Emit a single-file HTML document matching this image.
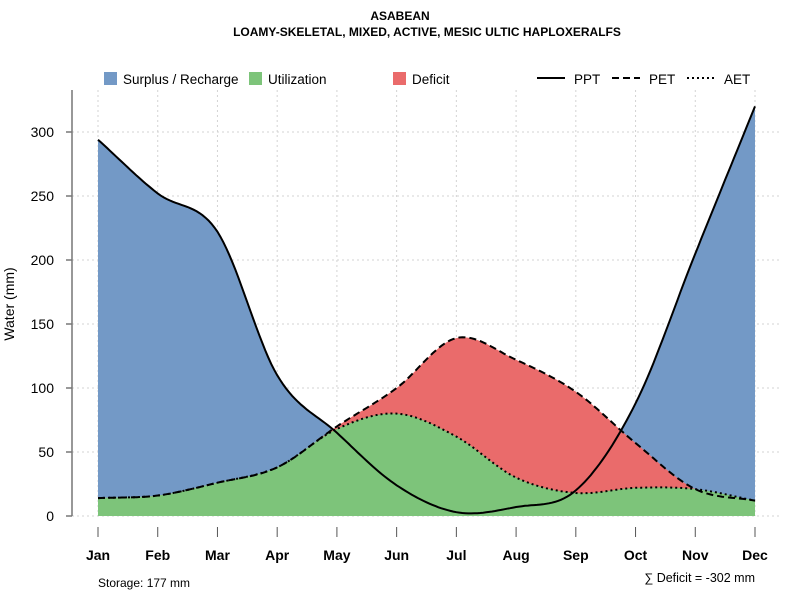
<!DOCTYPE html>
<html><head><meta charset="utf-8"><style>
body{margin:0;background:#fff}
svg{display:block;font-family:"Liberation Sans",sans-serif}
</style></head><body>
<svg id="chart" width="800" height="600" viewBox="0 0 800 600">
<text x="400" y="20" text-anchor="middle" font-size="12" font-weight="bold">ASABEAN</text>
<text x="427" y="36" text-anchor="middle" font-size="12" font-weight="bold">LOAMY-SKELETAL, MIXED, ACTIVE, MESIC ULTIC HAPLOXERALFS</text>
<g id="grid"></g>
<g id="areas"></g>
<g id="lines"></g>
<g id="axes"></g>
<text transform="translate(14,304) rotate(-90)" text-anchor="middle" font-size="14">Water (mm)</text>
<text x="98" y="587" font-size="12">Storage: 177 mm</text>
<text x="755" y="582" text-anchor="end" font-size="12.5">∑ Deficit = -302 mm</text>
<g>
<rect x="104" y="72" width="13" height="13" fill="#7399c6"/>
<text x="123" y="84" font-size="13.5">Surplus / Recharge</text>
<rect x="249" y="72" width="13" height="13" fill="#7dc47a"/>
<text x="268" y="84" font-size="13.5">Utilization</text>
<rect x="393" y="72" width="13" height="13" fill="#ea6b6b"/>
<text x="412" y="84" font-size="13.5">Deficit</text>
<line x1="537" y1="78" x2="565" y2="78" stroke="#000" stroke-width="2"/>
<text x="574" y="84" font-size="13.5">PPT</text>
<line x1="612" y1="78" x2="640" y2="78" stroke="#000" stroke-width="2" stroke-dasharray="7,4"/>
<text x="649" y="84" font-size="13.5">PET</text>
<line x1="687" y1="78" x2="715" y2="78" stroke="#000" stroke-width="2" stroke-dasharray="2,3"/>
<text x="724" y="84" font-size="13.5">AET</text>
</g>
</svg>
<script>
const months=["Jan","Feb","Mar","Apr","May","Jun","Jul","Aug","Sep","Oct","Nov","Dec"];
const ppt=[294,252,222,110,65,24,3,7,20,88,205,320];
const pet=[14,16,26,38,70,100,139,122,97,57,21,12];
const aet=[14,16,26,38,68,80,62,30,18,22,21,12];
const yTicks=[0,50,100,150,200,250,300];
const NS="http://www.w3.org/2000/svg";
const xs=i=>98+i*(755-98)/11;
const ys=v=>516-v*1.28;
function mk(tag,attrs,parent){const e=document.createElementNS(NS,tag);for(const k in attrs)e.setAttribute(k,attrs[k]);parent.appendChild(e);return e;}
function curve(d){const n=d.length,m=[];
 for(let i=0;i<n;i++){if(i==0)m.push(d[1]-d[0]);else if(i==n-1)m.push(d[n-1]-d[n-2]);else m.push((d[i+1]-d[i-1])/2);}
 const pts=[];for(let i=0;i<n-1;i++){for(let k=0;k<20;k++){const t=k/20,h00=2*t*t*t-3*t*t+1,h10=t*t*t-2*t*t+t,h01=-2*t*t*t+3*t*t,h11=t*t*t-t*t;pts.push([xs(i+t),ys(Math.max(0,h00*d[i]+h10*m[i]+h01*d[i+1]+h11*m[i+1]))]);}}
 pts.push([xs(n-1),ys(d[n-1])]);return pts;}
const grid=document.getElementById('grid'),areas=document.getElementById('areas'),lines=document.getElementById('lines'),axes=document.getElementById('axes');
yTicks.forEach(v=>{const l=mk('line',{x1:72,x2:782,y1:ys(v),y2:ys(v),stroke:'#d3d3d3','stroke-dasharray':'2,3'},grid);
 });
months.forEach((m,i)=>{const l=mk('line',{x1:xs(i),x2:xs(i),y1:90,y2:516,stroke:'#d3d3d3','stroke-dasharray':'2,3'},grid);
 });
function area(d,fill,name){const p=curve(d);const s='M'+xs(0)+','+ys(0)+' '+p.map(q=>'L'+q[0].toFixed(1)+','+q[1].toFixed(1)).join(' ')+' L'+xs(11)+','+ys(0)+'Z';
 const e=mk('path',{d:s,fill:fill},areas);}
area(ppt,'#7399c6','surplus-area');area(pet,'#ea6b6b','deficit-area');area(aet,'#7dc47a','utilization-area');
function line(d,dash,name){const p=curve(d);const e=mk('path',{d:'M'+p.map(q=>q[0].toFixed(1)+','+q[1].toFixed(1)).join(' L'),fill:'none',stroke:'#000','stroke-width':2,'stroke-dasharray':dash},lines);
 }
line(aet,'2,3','aet-line');line(pet,'7,4','pet-line');line(ppt,'none','ppt-line');
const ya=mk('line',{x1:72,x2:72,y1:90,y2:516,stroke:'#777','stroke-width':1.5},axes);

yTicks.forEach(v=>{const t=mk('line',{x1:66,x2:72,y1:ys(v),y2:ys(v),stroke:'#777','stroke-width':1.5},axes);
 
 const tx=mk('text',{x:54,y:ys(v)+5,'text-anchor':'end','font-size':14},axes);tx.textContent=v;
 });
months.forEach((m,i)=>{const t=mk('line',{x1:xs(i),x2:xs(i),y1:527,y2:537,stroke:'#555'},axes);
 
 const tx=mk('text',{x:xs(i),y:560,'text-anchor':'middle','font-size':14,'font-weight':'bold'},axes);tx.textContent=m;
 });
</script>
</body></html>
